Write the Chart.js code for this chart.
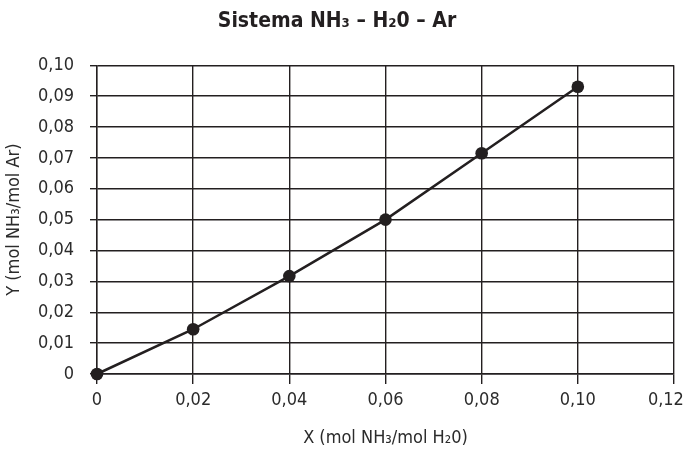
<!DOCTYPE html>
<html>
<head>
<meta charset="utf-8">
<script src="https://cdn.jsdelivr.net/npm/chart.js@4"></script>
<style>
  html, body { margin: 0; padding: 0; background: #fff; }
  #wrap { width: 688px; height: 450px; }
</style>
</head>
<body>
<div id="wrap"><canvas id="graph_container" width="688" height="450"></canvas></div>
<script>
// data
var xValues = [0, 0.02, 0.04, 0.06, 0.08, 0.10];
var yValues = [0, 0.0145, 0.0317, 0.050, 0.0715, 0.093];
var xTicks = [0, 0.02, 0.04, 0.06, 0.08, 0.10, 0.12];
var yTicks = [0, 0.01, 0.02, 0.03, 0.04, 0.05, 0.06, 0.07, 0.08, 0.09, 0.10];
var titleText = 'Sistema NH\u2083 \u2013 H\u20820 \u2013 Ar';
var xTitle = 'X (mol NH\u2083/mol H\u20820)';
var yTitle = 'Y (mol NH\u2083/mol Ar)';

var ink = '#231f20';
var fontFam = '"Liberation Sans Narrow", "DejaVu Sans Condensed", "Liberation Sans", sans-serif';

function fmt(v) {
    if (Math.abs(v) < 1e-9) return '0';
    return v.toFixed(2).replace('.', ',');
}

var pts = [];
for (var i = 0; i < xValues.length; i++) {
    pts.push({x: xValues[i], y: yValues[i]});
}

var ctx = document.getElementById('graph_container').getContext('2d');
var myChart = new Chart(ctx, {
    type: 'scatter',
    data: {
        datasets: [{
            data: pts,
            showLine: true,
            clip: false,
            borderColor: ink,
            borderWidth: 2.5,
            backgroundColor: ink,
            pointRadius: 6.3,
            pointHoverRadius: 6.3,
            pointBorderWidth: 0
        }]
    },
    options: {
        responsive: false,
        animation: false,
        layout: { padding: { left: 0, right: 14, top: 0, bottom: 0 } },
        plugins: {
            legend: { display: false },
            tooltip: { enabled: false },
            title: {
                display: true,
                text: titleText,
                color: ink,
                font: { family: fontFam, size: 21, weight: 'bold', lineHeight: 1.2 },
                padding: { top: 9, bottom: 31 }
            }
        },
        scales: {
            x: {
                type: 'linear',
                min: 0,
                max: 0.12,
                afterBuildTicks: function(axis) {
                    axis.ticks = xTicks.map(function(v) { return {value: v}; });
                },
                afterFit: function(axis) {
                    axis.height = 76;
                    axis.paddingLeft = 0;
                    axis.paddingRight = 0;
                },
                ticks: {
                    callback: function(v, idx, all) {
                        // last label sits against the edge, nudge it left
                        if (idx === all.length - 1) return fmt(v) + '\u2003';
                        return fmt(v);
                    },
                    color: '#2b2b2b',
                    font: { family: fontFam, size: 18 },
                    padding: 6,
                    maxRotation: 0
                },
                grid: { color: ink, lineWidth: 1.4, tickLength: 10, drawTicks: true },
                border: { color: ink, width: 1.4 },
                title: {
                    display: true,
                    text: xTitle,
                    color: '#2b2b2b',
                    font: { family: fontFam, size: 18 },
                    padding: { top: 0, bottom: 1 }
                }
            },
            y: {
                type: 'linear',
                min: 0,
                max: 0.10,
                afterBuildTicks: function(axis) {
                    axis.ticks = yTicks.map(function(v) { return {value: v}; });
                },
                afterFit: function(axis) {
                    axis.width = 97;
                    axis.paddingTop = 0;
                    axis.paddingBottom = 0;
                },
                ticks: {
                    callback: function(v) { return fmt(v); },
                    color: '#2b2b2b',
                    font: { family: fontFam, size: 18 },
                    padding: 16
                },
                grid: { color: ink, lineWidth: 1.4, tickLength: 7, drawTicks: true },
                border: { color: ink, width: 1.4 },
                title: {
                    display: true,
                    text: yTitle,
                    color: '#2b2b2b',
                    font: { family: fontFam, size: 18 },
                    padding: { top: 4, bottom: 0 }
                }
            }
        }
    }
});
</script>
</body>
</html>
